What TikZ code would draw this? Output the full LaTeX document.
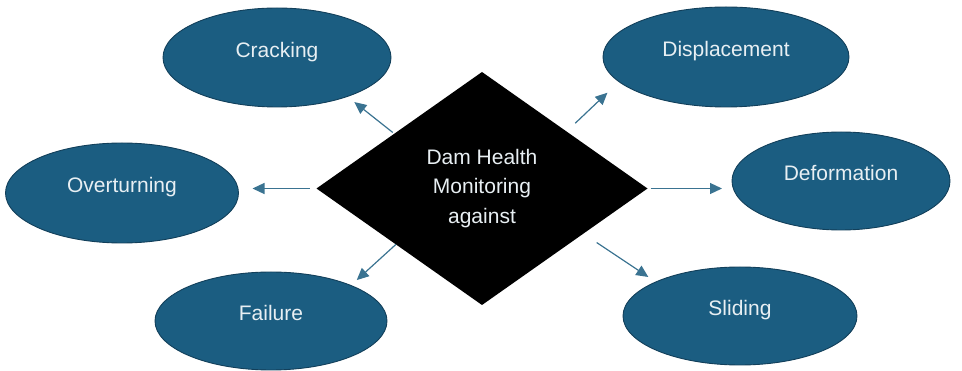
\documentclass[tikz,border=0pt]{standalone}
\usepackage{fontspec}
\setmainfont{Liberation Sans}
\usepackage{tikz}
\usetikzlibrary{arrows.meta,shapes.geometric}
\definecolor{damblue}{HTML}{1B5D81}
\definecolor{damedge}{HTML}{123F5A}
\definecolor{damtext}{HTML}{E8EFF3}
\definecolor{arrblue}{HTML}{3A7391}

\begin{document}
\begin{tikzpicture}[
			x=1pt,y=-1pt,
			hub/.style={diamond,fill=black,minimum width=331pt,minimum height=233pt,aspect=1.42,inner sep=0pt,outer sep=0pt,align=center,text=damtext,font=\fontsize{21}{29.5}\selectfont},
			risk/.style={ellipse,draw=damedge,line width=0.9pt,fill=damblue,inner sep=0pt,outer sep=0pt,text=damtext,text height=15pt,text depth=15pt,font=\fontsize{21}{25}\selectfont},
			arr/.style={-{Triangle[length=12pt,width=11pt]},line width=1.2pt,arrblue}
			]
			\useasboundingbox (0,0) rectangle (962,371);
			\node[hub] (dia) at (482,188.5) {Dam Health\\Monitoring\\against};
			\node[risk,minimum width=228pt,minimum height=99pt] (crack) at (277,57.5) {Cracking};
			\node[risk,minimum width=246pt,minimum height=100pt] (disp) at (726,57) {Displacement};
			\node[risk,minimum width=233pt,minimum height=100pt] (over) at (122,193) {Overturning};
			\node[risk,minimum width=218pt,minimum height=98pt] (defo) at (841,181) {Deformation};
			\node[risk,minimum width=232pt,minimum height=98pt] (fail) at (271,321) {Failure};
			\node[risk,minimum width=234pt,minimum height=98pt] (slid) at (740,316) {Sliding};
			\draw[arr,shorten <=2pt,shorten >=9pt] (dia.148) -- (crack.-29);
			\draw[arr,shorten <=12pt,shorten >=16pt] (dia.34) -- (disp.193);
			\draw[arr,shorten <=7pt,shorten >=14pt] (dia.west) -- (dia.west -| over.east);
			\draw[arr,shorten <=3pt,shorten >=10pt] (dia.east) -- (dia.east -| defo.west);
			\draw[arr,shorten >=8pt] (dia.213) -- (fail.24);
			\draw[arr,shorten <=16pt,shorten >=9pt] (dia.336) -- (slid.158);
		\end{tikzpicture}
\end{document}
